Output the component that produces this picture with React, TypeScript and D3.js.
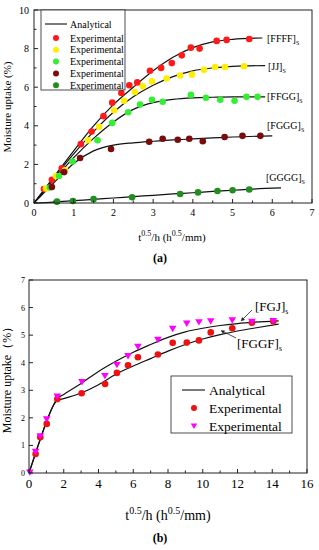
import React from 'react';
import * as d3 from 'd3';

// ---- panel (a) data ----
const redFFFF = [[0.25,0.72],[0.45,1.2],[0.7,1.8],[1.18,3.05],[1.45,3.7],[1.75,4.5],[1.97,5.2],[2.2,5.7],[2.4,6.1],[2.6,6.25],[2.92,6.85],[3.2,7.0],[3.47,7.25],[3.72,7.65],[3.95,8.05],[4.17,8.0],[4.6,8.4],[4.85,8.45],[5.42,8.5]];
const yellowJJ = [[0.3,0.75],[0.55,1.4],[0.78,1.7],[1.36,3.25],[1.64,3.95],[2.02,4.8],[2.27,5.3],[2.54,5.75],[2.74,6.05],[2.97,6.3],[3.34,6.45],[3.68,6.6],[3.98,6.65],[4.28,6.9],[4.56,7.05],[4.81,7.05],[5.29,7.08]];
const greenFFGG = [[0.4,0.8],[0.63,1.4],[0.97,2.15],[1.6,3.25],[1.97,4.15],[2.37,4.7],[2.67,5.1],[2.97,5.35],[3.24,5.25],[3.95,5.6],[4.33,5.45],[4.69,5.35],[5.05,5.3],[5.35,5.5],[5.63,5.5]];
const darkRedFGGG = [[0.45,0.83],[0.76,1.6],[1.16,2.33],[1.94,2.8],[2.9,3.17],[3.24,3.33],[3.62,3.28],[3.91,3.33],[4.25,3.2],[4.8,3.42],[5.25,3.48],[5.7,3.48]];
const darkGreenGGGG = [[0.58,0.07],[0.98,0.1],[1.5,0.2],[2.47,0.3],[3.68,0.47],[4.13,0.55],[4.62,0.62],[5.0,0.66],[5.42,0.7]];

const fitFFFF = [[0,0],[0.5,1.35],[1,2.7],[1.5,4.0],[2,5.1],[2.5,6.0],[3,6.85],[3.5,7.55],[4,8.05],[4.5,8.35],[5,8.48],[5.75,8.55]];
const fitJJ = [[0,0],[0.5,1.3],[1,2.55],[1.5,3.7],[2,4.7],[2.5,5.5],[3,6.1],[3.5,6.55],[4,6.85],[4.5,7.0],[5,7.08],[5.82,7.12]];
const fitFFGG = [[0,0],[0.5,1.2],[1,2.35],[1.5,3.35],[2,4.2],[2.5,4.85],[3,5.2],[3.5,5.37],[4,5.45],[4.5,5.48],[5,5.5],[5.82,5.5]];
const fitFGGG = [[0,0],[0.5,1.05],[1,2.05],[1.5,2.7],[2,3.0],[2.5,3.12],[3,3.2],[3.5,3.27],[4,3.32],[4.5,3.37],[5,3.42],[6,3.48]];
const fitGGGG = [[0,0],[0.5,0.05],[1,0.12],[1.5,0.19],[2,0.26],[2.5,0.33],[3,0.4],[3.5,0.47],[4,0.53],[4.5,0.6],[5,0.66],[5.5,0.72],[6.22,0.78]];

const seriesA = [
  { name: 'FFFF', pts: redFFFF, fit: fitFFFF, color: '#ff1a1a' },
  { name: 'JJ', pts: yellowJJ, fit: fitJJ, color: '#ffee00' },
  { name: 'FFGG', pts: greenFFGG, fit: fitFFGG, color: '#33ee33' },
  { name: 'FGGG', pts: darkRedFGGG, fit: fitFGGG, color: '#7a0c0c' },
  { name: 'GGGG', pts: darkGreenGGGG, fit: fitGGGG, color: '#1f8f1f' },
];
const xTicksA = [0, 1, 2, 3, 4, 5, 6, 7];
const yTicksA = [0, 2, 4, 6, 8, 10];

// ---- panel (b) data ----
const magentaFGJ = [[0.05,0.02],[0.38,0.77],[0.65,1.33],[1.02,1.95],[1.63,2.77],[3.05,3.3],[4.37,3.52],[5.06,3.92],[5.7,4.24],[6.27,4.58],[7.42,4.83],[8.27,5.23],[9.08,5.42],[9.78,5.47],[10.46,5.5],[11.7,5.54],[12.83,5.48],[14.06,5.51]];
const redFGGF = [[0.38,0.69],[0.65,1.3],[1.02,1.78],[1.63,2.68],[3.03,2.89],[4.38,3.23],[5.06,3.63],[5.7,3.91],[6.27,4.2],[7.42,4.3],[8.27,4.72],[9.08,4.73],[9.78,4.81],[10.46,5.1],[11.7,5.25],[12.83,5.45],[14.06,5.5]];
const fitFGJ = [[0,0],[0.5,0.95],[1,1.85],[1.4,2.45],[1.6,2.68],[2,2.85],[3,3.25],[4,3.68],[5,4.05],[6,4.38],[7,4.66],[8,4.92],[9,5.12],[10,5.25],[11,5.35],[12,5.42],[13,5.47],[14.37,5.52]];
const fitFGGF = [[0,0],[0.5,0.95],[1,1.85],[1.4,2.45],[1.6,2.62],[2,2.7],[3,2.9],[4,3.2],[5,3.58],[6,3.88],[7,4.15],[8,4.42],[9,4.66],[10,4.86],[11,5.02],[12,5.15],[13,5.26],[14.37,5.4]];
const xTicksB = [0, 2, 4, 6, 8, 10, 12, 14, 16];
const yTicksB = [0, 1, 2, 3, 4, 5, 6, 7];

const FONT = '"Liberation Serif", "Times New Roman", serif';

const xA = d3.scaleLinear().domain([0, 7]).range([34, 312]);
const yA = d3.scaleLinear().domain([0, 10]).range([203, 10]);
const xB = d3.scaleLinear().domain([0, 16]).range([29, 307]);
const yB = d3.scaleLinear().domain([0, 7]).range([473, 280]);

const Sub = ({ label, sub, x, y, size }: any) => (
  <text x={x} y={y} fontSize={size} fontFamily={FONT}>
    {label}
    <tspan fontSize={size * 0.6} dy={3}>{sub}</tspan>
  </text>
);

const tri = (cx: number, cy: number, s: number) =>
  `M${cx - s},${cy - s * 0.8}L${cx + s},${cy - s * 0.8}L${cx},${cy + s * 0.9}Z`;

export default function App() {
  const lineA = d3.line<number[]>().x(d => xA(d[0])).y(d => yA(d[1])).curve(d3.curveMonotoneX);
  const lineB = d3.line<number[]>().x(d => xB(d[0])).y(d => yB(d[1])).curve(d3.curveMonotoneX);
  const minorA = d3.range(1, 10, 2);
  const minorAx = d3.range(0.5, 7, 1);
  const minorB = d3.range(1, 16, 2);

  return (
    <svg width={319} height={550} style={{ position: 'absolute', left: 0, top: 0, background: '#fff' }}>
      {/* ===== panel (a) ===== */}
      <g>
        {seriesA.map(s => (
          <path key={s.name} d={lineA(s.fit) || ''} fill="none" stroke="#111" strokeWidth={1.2} />
        ))}
        {seriesA.map(s =>
          s.pts.map((p, i) => (
            <circle key={s.name + i} cx={xA(p[0])} cy={yA(p[1])} r={3.3} fill={s.color} />
          ))
        )}
        <rect x={34} y={10} width={278} height={193} fill="none" stroke="#222" strokeWidth={1} />
        {yTicksA.map(t => (
          <g key={'ya' + t}>
            <line x1={34} x2={38} y1={yA(t)} y2={yA(t)} stroke="#222" />
            <text x={29} y={yA(t) + 3.5} fontSize={10} textAnchor="end" fontFamily={FONT}>{t}</text>
          </g>
        ))}
        {minorA.map(t => (
          <line key={'yam' + t} x1={34} x2={36.5} y1={yA(t)} y2={yA(t)} stroke="#222" />
        ))}
        {xTicksA.map(t => (
          <g key={'xa' + t}>
            <line x1={xA(t)} x2={xA(t)} y1={203} y2={199} stroke="#222" />
            <text x={xA(t)} y={216} fontSize={10} textAnchor="middle" fontFamily={FONT}>{t}</text>
          </g>
        ))}
        {minorAx.map(t => (
          <line key={'xam' + t} x1={xA(t)} x2={xA(t)} y1={203} y2={200.5} stroke="#222" />
        ))}
        {/* series labels */}
        <Sub label="[FFFF]" sub="S" x={267} y={42} size={10} />
        <Sub label="[JJ]" sub="S" x={268} y={70} size={10} />
        <Sub label="[FFGG]" sub="S" x={267} y={100} size={10} />
        <Sub label="[FGGG]" sub="S" x={267} y={129} size={10} />
        <Sub label="[GGGG]" sub="S" x={266} y={181} size={10} />
        {/* legend */}
        <rect x={41} y={10} width={84} height={80} fill="#fff" stroke="#222" strokeWidth={0.8} />
        <line x1={45} x2={67} y1={24} y2={24} stroke="#222" strokeWidth={1.2} />
        <text x={70} y={27.5} fontSize={10} fontFamily={FONT}>Analytical</text>
        {seriesA.map((s, i) => (
          <g key={'lg' + s.name}>
            <circle cx={56} cy={38 + i * 11.8} r={3} fill={s.color} />
            <text x={70} y={41.5 + i * 11.8} fontSize={10} fontFamily={FONT}>Experimental</text>
          </g>
        ))}
        <text transform="translate(11,107) rotate(-90)" fontSize={11} textAnchor="middle" fontFamily={FONT}>Moisture uptake (%)</text>
        <text x={172} y={241} fontSize={11} textAnchor="middle" fontFamily={FONT}>
          t<tspan fontSize={8} dy={-5}>0.5</tspan><tspan dy={5}>/h (h</tspan><tspan fontSize={8} dy={-5}>0.5</tspan><tspan dy={5}>/mm)</tspan>
        </text>
        <text x={160} y={262} fontSize={12} fontWeight="bold" textAnchor="middle" fontFamily={FONT}>(a)</text>
      </g>

      {/* ===== panel (b) ===== */}
      <g>
        <path d={lineB(fitFGJ) || ''} fill="none" stroke="#111" strokeWidth={1.2} />
        <path d={lineB(fitFGGF) || ''} fill="none" stroke="#111" strokeWidth={1.2} />
        {redFGGF.map((p, i) => (
          <circle key={'r' + i} cx={xB(p[0])} cy={yB(p[1])} r={3.3} fill="#ee1111" />
        ))}
        {magentaFGJ.map((p, i) => (
          <path key={'m' + i} d={tri(xB(p[0]), yB(p[1]), 3.8)} fill="#ff00ff" />
        ))}
        <rect x={29} y={280} width={278} height={193} fill="none" stroke="#222" strokeWidth={1} />
        {yTicksB.map(t => (
          <g key={'yb' + t}>
            <line x1={29} x2={33} y1={yB(t)} y2={yB(t)} stroke="#222" />
            <text x={25} y={yB(t) + 3} fontSize={8} textAnchor="end" fontFamily={FONT}>{t}</text>
          </g>
        ))}
        {xTicksB.map(t => (
          <g key={'xb' + t}>
            <line x1={xB(t)} x2={xB(t)} y1={473} y2={469} stroke="#222" />
            <text x={xB(t)} y={488} fontSize={13} textAnchor="middle" fontFamily={FONT}>{t}</text>
          </g>
        ))}
        {minorB.map(t => (
          <line key={'xbm' + t} x1={xB(t)} x2={xB(t)} y1={473} y2={470.5} stroke="#222" />
        ))}
        {/* annotations */}
        <line x1={252} y1={310} x2={241} y2={321} stroke="#222" strokeWidth={0.8} />
        <path d="M241,321 l1,-4 l3,3 z" fill="#222" />
        <Sub label="[FGJ]" sub="s" x={255} y={311} size={13} />
        <line x1={236} y1={338} x2={221} y2={330.5} stroke="#222" strokeWidth={0.8} />
        <path d="M221,330.5 l4,0 l-2,3.5 z" fill="#222" />
        <Sub label="[FGGF]" sub="s" x={237} y={348} size={13} />
        {/* legend */}
        <rect x={171} y={376} width={121} height={57} fill="#fff" stroke="#222" strokeWidth={0.8} />
        <line x1={182} x2={205} y1={390} y2={390} stroke="#222" strokeWidth={1.2} />
        <text x={209} y={394.5} fontSize={13.5} fontFamily={FONT}>Analytical</text>
        <circle cx={194} cy={408} r={3} fill="#ee1111" />
        <text x={209} y={412.5} fontSize={13.5} fontFamily={FONT}>Experimental</text>
        <path d={tri(194, 426, 3.2)} fill="#ff00ff" />
        <text x={209} y={430.5} fontSize={13.5} fontFamily={FONT}>Experimental</text>
        <text transform="translate(11,377) rotate(-90)" fontSize={12} textAnchor="middle" fontFamily={FONT}>Moisture uptake（%）</text>
        <text x={168} y={520} fontSize={14} textAnchor="middle" fontFamily={FONT}>
          t<tspan fontSize={10} dy={-6}>0.5</tspan><tspan dy={6}>/h (h</tspan><tspan fontSize={10} dy={-6}>0.5</tspan><tspan dy={6}>/mm)</tspan>
        </text>
        <text x={160} y={542} fontSize={12} fontWeight="bold" textAnchor="middle" fontFamily={FONT}>(b)</text>
      </g>
    </svg>
  );
}
